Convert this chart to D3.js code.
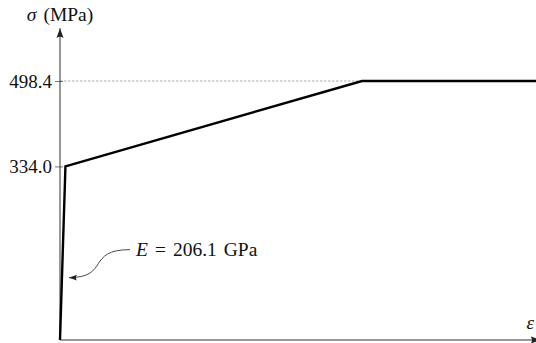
<!DOCTYPE html>
<html>
<head>
<meta charset="utf-8">
<script src="https://cdn.jsdelivr.net/npm/d3@7"></script>
<style>
  html, body { margin: 0; padding: 0; background: #fff; }
  svg { display: block; }
  text { font-family: "Liberation Serif", "DejaVu Serif", serif; fill: #111; }
</style>
</head>
<body>
<svg id="chart" width="536" height="343"></svg>
<script>
// Bilinear stress–strain law with a yield plateau
const modulusGPa = 206.1;                 // elastic modulus E
const yieldStress = 334.0;                // MPa
const ultimateStress = 498.4;             // MPa
const stressPts = [0, yieldStress, ultimateStress, ultimateStress];
const strainPts = [0, yieldStress / (modulusGPa * 1000), 0.09, 0.16];
const yTickValues = [334.0, 498.4];
const yTickLabels = ["334.0", "498.4"];
const axisMax = { strain: 0.1432, stress: 600 };
const annotationStress = 120;             // where the modulus callout points

const svg = d3.select("#chart");
const origin = { x: 60, y: 340 };

const x = d3.scaleLinear().domain([0, 0.09]).range([origin.x, 362]);
const y = d3.scaleLinear().domain([0, ultimateStress]).range([origin.y, 81]);

// arrowhead markers (LaTeX-style)
const defs = svg.append("defs");
function arrowMarker(id, color, size) {
  defs.append("marker")
    .attr("id", id)
    .attr("viewBox", "-10 -5 11 10")
    .attr("refX", 0).attr("refY", 0)
    .attr("markerWidth", size).attr("markerHeight", size)
    .attr("markerUnits", "userSpaceOnUse")
    .attr("orient", "auto")
    .append("path")
    .attr("d", "M0,0 L-10,-3.6 Q-7,0 -10,3.6 Z")
    .attr("fill", color);
}
arrowMarker("axisArrow", "#222", 11);
arrowMarker("noteArrow", "#222", 9);

// dashed guide at the ultimate stress
svg.append("line")
  .attr("x1", x(0)).attr("x2", x(strainPts[2]))
  .attr("y1", y(ultimateStress)).attr("y2", y(ultimateStress))
  .attr("stroke", "#a0a0a0").attr("stroke-width", 0.9)
  .attr("stroke-dasharray", "2.5 1.5");

// y axis ticks and labels
const yAxis = d3.axisLeft(y)
  .tickValues(yTickValues)
  .tickFormat((d, i) => yTickLabels[i])
  .tickSize(5)
  .tickPadding(3);
const gy = svg.append("g")
  .attr("transform", `translate(${origin.x},0)`)
  .call(yAxis);
gy.select(".domain").remove();
gy.selectAll(".tick line").attr("x1", 3).attr("stroke", "#555").attr("stroke-width", 0.8);
gy.selectAll(".tick text")
  .attr("font-family", "Liberation Serif, DejaVu Serif, serif")
  .attr("font-size", 19)
  .attr("fill", "#111");

// axes with arrows
svg.append("line")
  .attr("x1", x(0)).attr("y1", y(0))
  .attr("x2", x(0)).attr("y2", y(axisMax.stress))
  .attr("stroke", "#333").attr("stroke-width", 1)
  .attr("marker-end", "url(#axisArrow)");
svg.append("line")
  .attr("x1", x(0)).attr("y1", y(0))
  .attr("x2", x(axisMax.strain)).attr("y2", y(0))
  .attr("stroke", "#333").attr("stroke-width", 1)
  .attr("marker-end", "url(#axisArrow)");

// stress–strain curve
const line = d3.line()
  .x((d, i) => x(strainPts[i]))
  .y(d => y(d));
svg.append("path")
  .datum(stressPts)
  .attr("d", line)
  .attr("fill", "none")
  .attr("stroke", "#000")
  .attr("stroke-width", 2.4)
  .attr("stroke-linejoin", "miter");

// axis titles
const yTitle = svg.append("text")
  .attr("x", x(0)).attr("y", 21)
  .attr("text-anchor", "middle")
  .attr("font-size", 19.5);
yTitle.append("tspan").attr("font-style", "italic").text("σ");
yTitle.append("tspan").attr("dx", 7).text("(MPa)");

svg.append("text")
  .attr("x", x(axisMax.strain) - 14).attr("y", 329)
  .attr("font-size", 19)
  .attr("font-style", "italic")
  .text("ε");

// modulus callout
const tipX = x(annotationStress / (modulusGPa * 1000)) + 6;
const tipY = y(annotationStress);
const startX = tipX + 62, startY = tipY - 28;
svg.append("path")
  .attr("d", `M${startX},${startY} C${startX - 44},${startY} ${tipX + 42},${tipY} ${tipX + 1},${tipY}`)
  .attr("fill", "none")
  .attr("stroke", "#333")
  .attr("stroke-width", 0.9)
  .attr("marker-end", "url(#noteArrow)");

const note = svg.append("text")
  .attr("x", startX + 6).attr("y", startY + 6.5)
  .attr("font-size", 19.5);
note.append("tspan").attr("font-style", "italic").text("E");
note.append("tspan").attr("dx", 7).text("=");
note.append("tspan").attr("dx", 7).text(d3.format(".1f")(modulusGPa));
note.append("tspan").attr("dx", 7).text("GPa");
</script>
</body>
</html>
